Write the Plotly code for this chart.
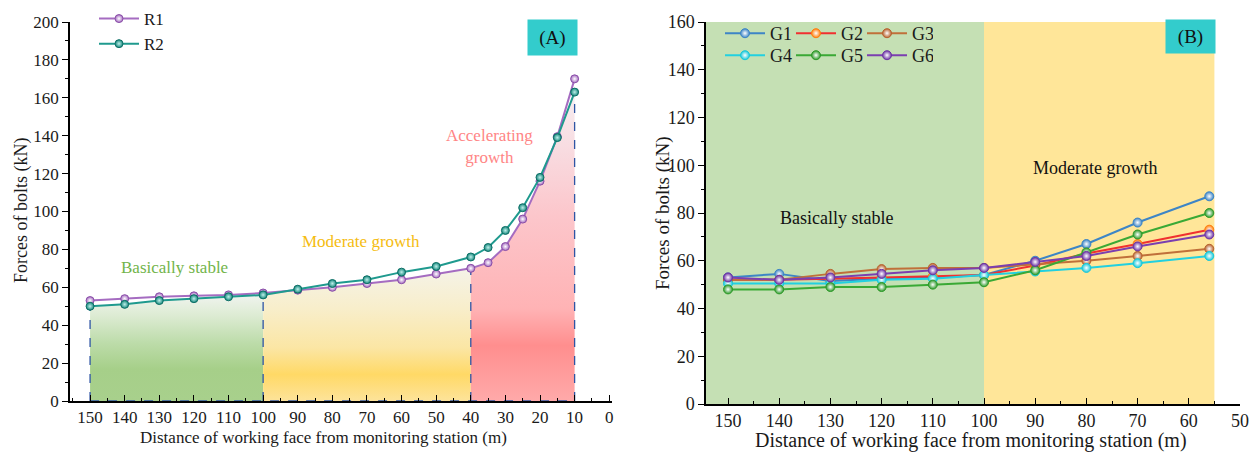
import plotly.graph_objects as go
import numpy as np

W, H = 1259, 453

# ---------------- Data: panel A ----------------
dist_a = [150, 140, 130, 120, 110, 100, 90, 80, 70, 60, 50, 40, 35, 30, 25, 20, 15, 10]
r1 = [53, 54, 55, 55.5, 56, 57, 58.5, 60, 62, 64, 67, 70, 73, 81.5, 96, 116, 139.5, 170]
r2 = [50, 51, 53, 54, 55, 56, 59, 62, 64, 68, 71, 76, 81, 90, 102, 118, 139, 163]
stage_bounds = [150, 100, 40, 10]

# ---------------- Data: panel B ----------------
dist_b = [150, 140, 130, 120, 110, 100, 90, 80, 70, 56]
g1 = [53, 54.5, 51.5, 52.5, 53, 54, 60, 67, 76, 87]
g2 = [52, 52, 52.5, 53, 53.5, 54, 58, 63, 67, 73]
g3 = [52, 52, 54.5, 56.5, 57, 57, 58.5, 60, 62, 65]
g4 = [50.5, 50.5, 50.5, 52, 52.5, 54, 55.5, 57, 59, 62]
g5 = [48, 48, 49, 49, 50, 51, 56, 63.5, 71, 80]
g6 = [53, 52, 53, 54.5, 56, 57, 59.5, 62, 66, 71]

SERIF = "Liberation Serif"

fig = go.Figure()

def px2x(px):
    return px / W

def py2y(py):
    return 1 - py / H

# ---- Panel A fills ----
da = np.array(dist_a, dtype=float)
low = np.minimum(np.array(r1), np.array(r2))

fills = [
    (150, 100, [[0, "#a8d08c"], [0.3, "#a6cf89"], [0.55, "#bddcaa"], [0.8, "#dcebd2"], [1, "#f0f4ef"]]),
    (100, 40, [[0, "#fde39a"], [0.2, "#ffd966"], [0.4, "#fbe6a4"], [0.7, "#f8eecb"], [1, "#f5f3e8"]]),
    (40, 10, [[0, "#ffaaaa"], [0.18, "#ff8e8e"], [0.3, "#ffb3b5"], [0.6, "#fcc6cb"], [0.82, "#f8dce1"], [1, "#f6eef1"]]),
]
for hi, lo_, cs in fills:
    m = (da <= hi) & (da >= lo_)
    top = float(low[m].max())
    fig.add_trace(go.Scatter(
        x=da[m], y=low[m], mode="lines", line=dict(width=0),
        fill="tozeroy",
        fillgradient=dict(type="vertical", colorscale=cs, start=0, stop=top),
        xaxis="x", yaxis="y", showlegend=False, hoverinfo="skip"))

# dashed boundaries
for b in stage_bounds:
    yb = float(low[list(dist_a).index(b)])
    fig.add_trace(go.Scatter(x=[b, b], y=[0, yb], mode="lines",
                             line=dict(color="#2f55a4", width=1.3, dash="dash"),
                             xaxis="x", yaxis="y", showlegend=False, hoverinfo="skip"))
fig.add_trace(go.Scatter(x=[stage_bounds[0], stage_bounds[-1]], y=[0, 0], mode="lines",
                         line=dict(color="#2f55a4", width=1.3, dash="dash"),
                         xaxis="x", yaxis="y", showlegend=False, hoverinfo="skip"))

# R lines
fig.add_trace(go.Scatter(
    x=dist_a, y=r1, name="R1", mode="lines+markers",
    line=dict(color="#a56cc1", width=2),
    marker=dict(size=8, color="#a56cc1", gradient=dict(type="radial", color="#ffffff"),
                line=dict(color="#8a4fa8", width=1)),
    xaxis="x", yaxis="y", legend="legend"))
fig.add_trace(go.Scatter(
    x=dist_a, y=r2, name="R2", mode="lines+markers",
    line=dict(color="#1f9a8e", width=2),
    marker=dict(size=8, color="#14877c", gradient=dict(type="radial", color="#bff0ea"),
                line=dict(color="#0e6f66", width=1)),
    xaxis="x", yaxis="y", legend="legend"))

# ---- Panel B ----
series_b = [
    ("G1", g1, "#3d85c6", "#3d85c6", "legend2"),
    ("G2", g2, "#f03030", "#ff7f0e", "legend2"),
    ("G3", g3, "#c0703a", "#b8632f", "legend2"),
    ("G4", g4, "#22d0e0", "#18c8da", "legend3"),
    ("G5", g5, "#3aa935", "#2e9a2a", "legend3"),
    ("G6", g6, "#7b3fb0", "#6e35a5", "legend3"),
]
for name, vals, lc, mc, lg in series_b:
    fig.add_trace(go.Scatter(
        x=dist_b, y=vals, name=name, mode="lines+markers",
        line=dict(color=lc, width=2),
        marker=dict(size=9, color=mc, gradient=dict(type="radial", color="#ffffff"),
                    line=dict(color=mc, width=1)),
        xaxis="x2", yaxis="y2", legend=lg))

tickfont_a = dict(family=SERIF, size=17, color="#1a1a1a")
tickfont_b = dict(family=SERIF, size=18, color="#1a1a1a")

xa_range = [155.8, -0.8]
xb_range = [154.3, 50]

fig.update_layout(
    width=W, height=H,
    font=dict(family=SERIF, size=16, color="#1a1a1a"),
    margin=dict(l=0, r=0, t=0, b=0, autoexpand=False),
    paper_bgcolor="white", plot_bgcolor="rgba(0,0,0,0)",
    xaxis=dict(domain=[px2x(70), px2x(612)], range=xa_range, anchor="y",
               tickmode="linear", tick0=0, dtick=10, ticks="inside", ticklen=6,
               tickcolor="black", tickwidth=1.3,
               minor=dict(ticks="inside", ticklen=3, dtick=5, tickcolor="black"),
               showline=True, linecolor="black", linewidth=1.5, showgrid=False,
               zeroline=False, tickfont=tickfont_a, automargin=False),
    yaxis=dict(domain=[py2y(401), py2y(22)], range=[0, 200], anchor="x",
               tickmode="linear", tick0=0, dtick=20, ticks="outside", ticklen=6,
               tickcolor="black", tickwidth=1.3,
               minor=dict(ticks="outside", ticklen=3, dtick=10, tickcolor="black"),
               showline=True, linecolor="black", linewidth=1.5, showgrid=False,
               zeroline=False, tickfont=tickfont_a, automargin=False),
    xaxis2=dict(domain=[px2x(706), px2x(1240)], range=xb_range, anchor="y2",
                tickmode="linear", tick0=0, dtick=10, ticks="inside", ticklen=6,
                tickcolor="black", tickwidth=1.3,
                minor=dict(ticks="inside", ticklen=3, dtick=5, tickcolor="black"),
                showline=True, linecolor="black", linewidth=1.5, showgrid=False,
                zeroline=False, tickfont=tickfont_b, automargin=False),
    yaxis2=dict(domain=[py2y(404), py2y(22)], range=[0, 160], anchor="x2",
                tickmode="linear", tick0=0, dtick=20, ticks="outside", ticklen=6,
                tickcolor="black", tickwidth=1.3,
                minor=dict(ticks="outside", ticklen=3, dtick=10, tickcolor="black"),
                showline=True, linecolor="black", linewidth=1.5, showgrid=False,
                zeroline=False, tickfont=tickfont_b, automargin=False),
    legend=dict(x=px2x(94), y=py2y(1), xanchor="left", yanchor="top",
                bgcolor="rgba(0,0,0,0)", font=dict(family=SERIF, size=17, color="#1a1a1a"),
                itemwidth=40, tracegroupgap=0),
    legend2=dict(x=px2x(720), y=py2y(15), xanchor="left", yanchor="top", orientation="h",
                 bgcolor="rgba(0,0,0,0)", font=dict(family=SERIF, size=18, color="#1a1a1a"),
                 entrywidth=16, entrywidthmode="pixels", itemwidth=40),
    legend3=dict(x=px2x(720), y=py2y(37), xanchor="left", yanchor="top", orientation="h",
                 bgcolor="rgba(0,0,0,0)", font=dict(family=SERIF, size=18, color="#1a1a1a"),
                 entrywidth=16, entrywidthmode="pixels", itemwidth=40),
    showlegend=True,
)

# Panel B background stages
fig.add_shape(type="rect", xref="x2", yref="y2", x0=xb_range[0], x1=100, y0=0, y1=160,
              fillcolor="#c5e0b4", line=dict(width=0), layer="below")
fig.add_shape(type="rect", xref="x2", yref="y2", x0=100, x1=55, y0=0, y1=160,
              fillcolor="#ffe699", line=dict(width=0), layer="below")

C = dict(xanchor="center", yanchor="middle", showarrow=False)
ann = []
# Panel labels
ann.append(dict(text="(A)", xref="paper", yref="paper", x=px2x(552.5), y=py2y(37.5),
                bgcolor="#33cccc", width=45, height=31, borderpad=2,
                font=dict(family=SERIF, size=19, color="#111"), **C))
ann.append(dict(text="(B)", xref="paper", yref="paper", x=px2x(1190.5), y=py2y(36.5),
                bgcolor="#33cccc", width=45, height=29, borderpad=2,
                font=dict(family=SERIF, size=19, color="#111"), **C))
# Stage texts panel A
ann.append(dict(text="Basically stable", xref="x", yref="y", x=125.5, y=70.2,
                font=dict(family=SERIF, size=17, color="#72b44a"), **C))
ann.append(dict(text="Moderate growth", xref="x", yref="y", x=71.6, y=84.4,
                font=dict(family=SERIF, size=17, color="#f5bc10"), **C))
ann.append(dict(text="Accelerating<br>growth", xref="x", yref="y", x=34.7, y=134.3,
                font=dict(family=SERIF, size=17, color="#ff8585"), **C))
# Stage texts panel B
ann.append(dict(text="Basically stable", xref="x2", yref="y2", x=128.9, y=77.9,
                font=dict(family=SERIF, size=18, color="#111"), **C))
ann.append(dict(text="Moderate growth", xref="x2", yref="y2", x=78.3, y=98.8,
                font=dict(family=SERIF, size=18, color="#111"), **C))
# Axis titles
xt = "Distance of working face from monitoring station (m)"
yt = "Forces of bolts (kN)"
ann.append(dict(text=xt, xref="paper", yref="paper", x=px2x(323), y=py2y(437),
                font=dict(family=SERIF, size=17, color="#1a1a1a"), **C))
ann.append(dict(text=yt, xref="paper", yref="paper", x=px2x(22), y=py2y(211),
                textangle=-90, font=dict(family=SERIF, size=18, color="#1a1a1a"), **C))
ann.append(dict(text=xt, xref="paper", yref="paper", x=px2x(971), y=py2y(440),
                font=dict(family=SERIF, size=20, color="#1a1a1a"), **C))
ann.append(dict(text=yt, xref="paper", yref="paper", x=px2x(663), y=py2y(213),
                textangle=-90, font=dict(family=SERIF, size=19, color="#1a1a1a"), **C))
fig.update_layout(annotations=ann)

fig.write_html("out.html", config={"displayModeBar": False},
               post_script="document.body.style.margin='0';document.body.style.padding='0';")
